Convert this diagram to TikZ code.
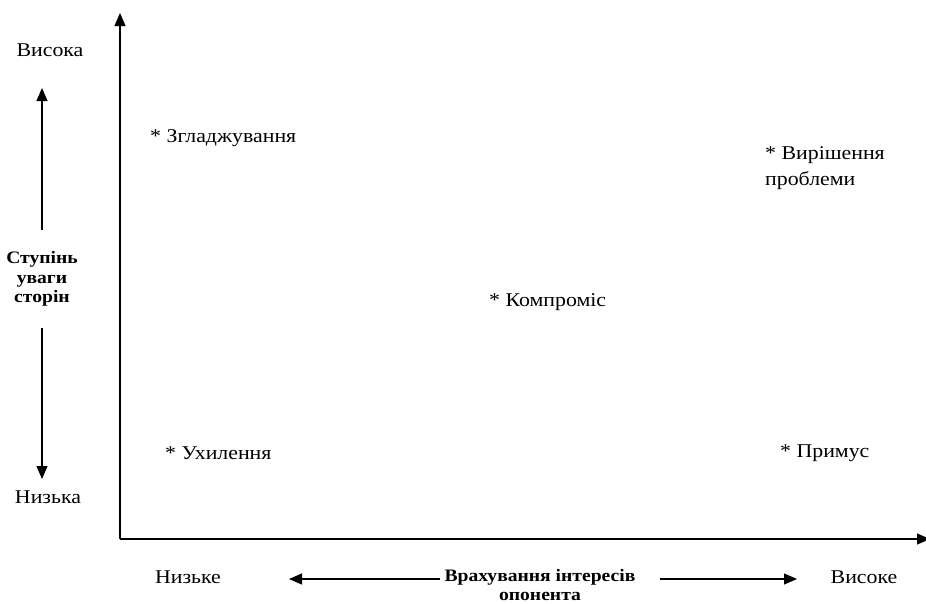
\documentclass[tikz,border=0pt]{standalone}
\usepackage{fontspec}
\setmainfont[FakeStretch=1.12]{Liberation Serif}
\usetikzlibrary{arrows.meta}
\begin{document}
\begin{tikzpicture}[x=1pt,y=-1pt,
  lbl/.style={inner sep=0pt,font=\fontsize{19.5}{26}\selectfont},
  bold/.style={inner sep=0pt,align=center,font=\fontsize{17.5}{19.5}\selectfont\bfseries},
  axis/.style={line width=1.1pt,-{Triangle[length=13pt,width=11pt]}},
  guide/.style={line width=1.1pt,-{Triangle[length=13pt,width=11pt]}}]
\useasboundingbox (0,0) rectangle (926,603);
% main axes
\coordinate (O) at (120,539);
\coordinate (ytop) at (120,13);
\coordinate (xend) at (930,539);
\draw[axis] (O) -- (ytop);
\draw[axis] (O) -- (xend);
% vertical scale
\node[lbl] (hi) at (50,50) {Висока};
\node[lbl] (lo) at (48,497) {Низька};
\node[bold] (yl) at (42,279) {Ступінь\\уваги\\сторін};
\coordinate (yu0) at (42,230);
\coordinate (yu1) at (42,88);
\coordinate (yd0) at (42,328);
\coordinate (yd1) at (42,479);
\draw[guide] (yu0) -- (yu1);
\draw[guide] (yd0) -- (yd1);
% horizontal scale
\node[lbl] (xlo) at (188,577) {Низьке};
\node[lbl] (xhi) at (864,577) {Високе};
\node[bold,anchor=north] (xl) at (540,569) {Врахування інтересів\\опонента};
\coordinate (xl0) at (440,579);
\coordinate (xl1) at (289,579);
\coordinate (xr0) at (660,579);
\coordinate (xr1) at (797,579);
\draw[guide] (xl0) -- (xl1);
\draw[guide] (xr0) -- (xr1);
% styles of conflict behaviour
\node[lbl,anchor=west] (s1) at (150,138) {* Згладжування};
\node[lbl,anchor=north west,align=left] (s2) at (765,146) {* Вирішення\\проблеми};
\node[lbl,anchor=west] (s3) at (489,302) {* Компроміс};
\node[lbl,anchor=west] (s4) at (165,453) {* Ухилення};
\node[lbl,anchor=west] (s5) at (780,453) {* Примус};
\end{tikzpicture}
\end{document}
